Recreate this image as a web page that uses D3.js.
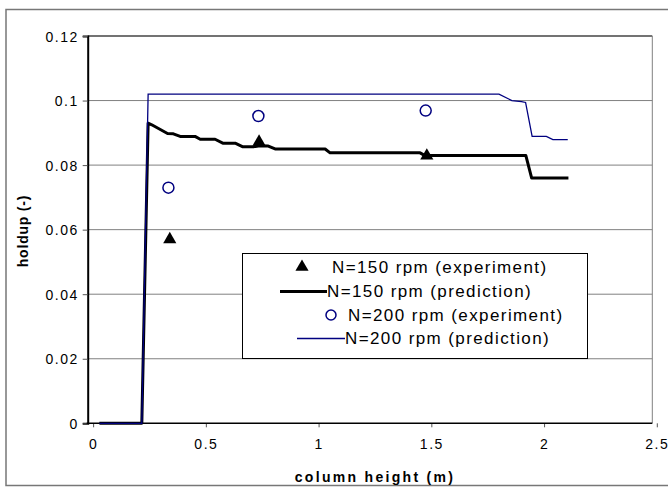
<!DOCTYPE html>
<html>
<head>
<meta charset="utf-8">
<script src="https://cdn.jsdelivr.net/npm/d3@7"></script>
<style>
  body { margin: 0; background: #fff; }
  svg text { font-family: Arial, "Liberation Sans", sans-serif; fill: #000; }
</style>
</head>
<body>
<svg id="chart"></svg>
<script>
const width = 668;
const height = 487;

// tick values
const xTicks = [0, 0.5, 1, 1.5, 2, 2.5];
const yTicks = [0, 0.02, 0.04, 0.06, 0.08, 0.1, 0.12];

// N=150 rpm, model prediction
const pred150X = [0.028, 0.216, 0.244, 0.26, 0.33, 0.356, 0.386, 0.452, 0.475, 0.541, 0.575, 0.63, 0.662, 0.711, 0.74, 0.777, 0.807, 1.029, 1.051, 1.45, 1.47, 1.919, 1.945, 2.108];
const pred150Y = [0, 0, 0.093, 0.0925, 0.0898, 0.0897, 0.0889, 0.0889, 0.088, 0.088, 0.0868, 0.0868, 0.0857, 0.0857, 0.086, 0.0859, 0.085, 0.085, 0.0838, 0.0838, 0.083, 0.083, 0.076, 0.076];

// N=200 rpm, model prediction
const pred200X = [0.028, 0.216, 0.244, 1.80, 1.857, 1.90, 1.918, 1.947, 2.01, 2.039, 2.105];
const pred200Y = [0, 0, 0.102, 0.102, 0.1, 0.0997, 0.0994, 0.0889, 0.0889, 0.0879, 0.0879];

// experiments
const exp150X = [0.34, 0.736, 1.48];
const exp150Y = [0.057, 0.0872, 0.0829];
const exp200X = [0.334, 0.733, 1.475];
const exp200Y = [0.073, 0.0952, 0.0969];

const legendLabels = [
  'N=150 rpm (experiment)',
  'N=150 rpm (prediction)',
  'N=200 rpm (experiment)',
  'N=200 rpm (prediction)'
];

const navy = '#000080';

const svg = d3.select('#chart')
  .attr('width', width)
  .attr('height', height)
  .attr('viewBox', `0 0 ${width} ${height}`);

// outer chart frame
svg.append('rect')
  .attr('x', 6).attr('y', 9.5)
  .attr('width', 700).attr('height', 476)
  .attr('fill', 'none')
  .attr('stroke', '#777')
  .attr('stroke-width', 1.5);

const x = d3.scaleLinear().domain([-0.024, 2.48]).range([87.7, 652.3]);
const y = d3.scaleLinear().domain([0, 0.12]).range([423.3, 36]);

// gridlines
svg.append('g')
  .selectAll('line')
  .data(yTicks.filter(d => d > 0))
  .join('line')
  .attr('x1', x.range()[0]).attr('x2', x.range()[1])
  .attr('y1', d => y(d)).attr('y2', d => y(d))
  .attr('stroke', d => d === 0.12 ? '#444' : '#808080')
  .attr('stroke-width', d => d === 0.12 ? 1.5 : 1);

// right border of plot area
svg.append('line')
  .attr('x1', x.range()[1]).attr('x2', x.range()[1])
  .attr('y1', y(0.12)).attr('y2', y(0))
  .attr('stroke', '#808080');

// y axis
const yAxis = d3.axisLeft(y)
  .tickValues(yTicks)
  .tickSize(5)
  .tickPadding(4)
  .tickFormat(d => d === 0 ? '0' : d3.format('')(+d.toFixed(2)));

svg.append('g')
  .attr('transform', `translate(${x.range()[0]},0)`)
  .call(yAxis)
  .call(g => g.select('.domain').attr('stroke', '#000').attr('stroke-width', 2))
  .call(g => g.selectAll('.tick line').attr('stroke', '#555'))
  .call(g => g.selectAll('.tick text')
    .attr('font-size', 14)
    .attr('letter-spacing', 1.5)
    .attr('dy', '0.36em'));

// x axis
const xAxis = d3.axisBottom(x)
  .tickValues(xTicks)
  .tickSize(4)
  .tickPadding(12)
  .tickFormat(d3.format(''));

svg.append('g')
  .attr('transform', `translate(0,${y(0)})`)
  .call(xAxis)
  .call(g => g.select('.domain').remove())
  .call(g => g.selectAll('.tick line').attr('stroke', '#555'))
  .call(g => g.selectAll('.tick text')
    .attr('font-size', 14)
    .attr('letter-spacing', 1.5));

svg.append('line')
  .attr('x1', x.range()[0] - 1).attr('x2', x.range()[1])
  .attr('y1', y(0)).attr('y2', y(0))
  .attr('stroke', '#000').attr('stroke-width', 1.5);

// axis titles
svg.append('text')
  .attr('x', 375).attr('y', 482)
  .attr('text-anchor', 'middle')
  .attr('font-size', 14)
  .attr('font-weight', 'bold')
  .attr('letter-spacing', 2.3)
  .text('column height (m)');

svg.append('text')
  .attr('transform', 'translate(28,231) rotate(-90)')
  .attr('text-anchor', 'middle')
  .attr('font-size', 14)
  .attr('font-weight', 'bold')
  .attr('letter-spacing', 0.8)
  .text('holdup (-)');

// lines
const line = d3.line().x(d => x(d[0])).y(d => y(d[1]));
const pred150 = pred150X.map((v, i) => [v, pred150Y[i]]);
const pred200 = pred200X.map((v, i) => [v, pred200Y[i]]);

svg.append('path')
  .attr('d', line(pred150))
  .attr('fill', 'none')
  .attr('stroke', '#000')
  .attr('stroke-width', 3)
  .attr('stroke-linejoin', 'round');

svg.append('path')
  .attr('d', line(pred200))
  .attr('fill', 'none')
  .attr('stroke', navy)
  .attr('stroke-width', 1.3);

// experiment markers
const tri = d3.symbol().type(d3.symbolTriangle).size(75);

svg.append('g')
  .selectAll('path')
  .data(exp150X.map((v, i) => [v, exp150Y[i]]))
  .join('path')
  .attr('d', tri)
  .attr('transform', d => `translate(${x(d[0])},${y(d[1])})`)
  .attr('fill', '#000');

svg.append('g')
  .selectAll('circle')
  .data(exp200X.map((v, i) => [v, exp200Y[i]]))
  .join('circle')
  .attr('cx', d => x(d[0]))
  .attr('cy', d => y(d[1]))
  .attr('r', 5.5)
  .attr('fill', 'none')
  .attr('stroke', navy)
  .attr('stroke-width', 1.5);

// legend
const legend = svg.append('g');
legend.append('rect')
  .attr('x', 242.5).attr('y', 253.5)
  .attr('width', 345).attr('height', 105)
  .attr('fill', '#fff')
  .attr('stroke', '#000');

const rowY = [267, 291.5, 315, 338.5];

legend.append('path')
  .attr('d', tri)
  .attr('transform', `translate(302,${rowY[0]})`)
  .attr('fill', '#000');
legend.append('line')
  .attr('x1', 280).attr('x2', 327)
  .attr('y1', rowY[1]).attr('y2', rowY[1])
  .attr('stroke', '#000').attr('stroke-width', 3);
legend.append('circle')
  .attr('cx', 331).attr('cy', rowY[2]).attr('r', 5)
  .attr('fill', 'none').attr('stroke', navy).attr('stroke-width', 1.5);
legend.append('line')
  .attr('x1', 297).attr('x2', 345)
  .attr('y1', rowY[3]).attr('y2', rowY[3])
  .attr('stroke', navy).attr('stroke-width', 1.3);

const textX = [332, 327, 348, 345];
legend.selectAll('text.lbl')
  .data(legendLabels)
  .join('text')
  .attr('class', 'lbl')
  .attr('x', (d, i) => textX[i])
  .attr('y', (d, i) => rowY[i])
  .attr('dy', '0.35em')
  .attr('font-size', 17)
  .attr('letter-spacing', 1.4)
  .text(d => d);
</script>
</body>
</html>
